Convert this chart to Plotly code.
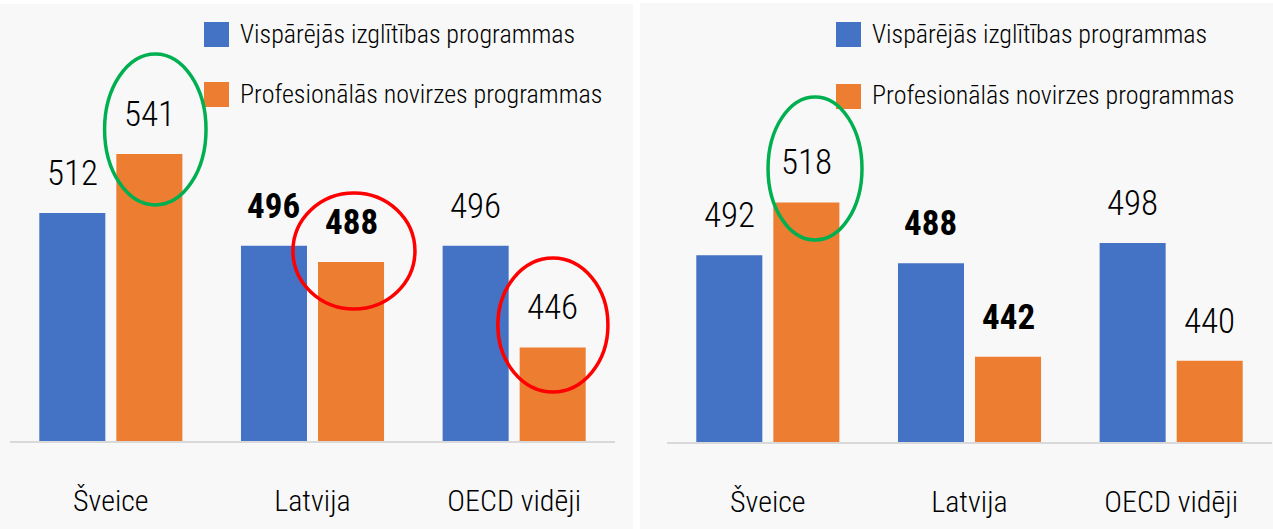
import plotly.graph_objects as go
from plotly.subplots import make_subplots

categories = ["Šveice", "Latvija", "OECD vidēji"]
series_names = ["Vispārējās izglītības programmas", "Profesionālās novirzes programmas"]
left_general = [512, 496, 496]
left_vocational = [541, 488, 446]
right_general = [492, 488, 498]
right_vocational = [518, 442, 440]
bold_category = "Latvija"

BLUE = "#4472c4"
ORANGE = "#ed7d31"
BG = "#f8f8f8"
FONT = "Roboto Condensed, Roboto, sans-serif"
W, H = 1273, 529

fig = make_subplots(rows=1, cols=2)

panels = [(left_general, left_vocational, 1), (right_general, right_vocational, 2)]
for gen, voc, col in panels:
    fig.add_trace(go.Bar(x=categories, y=gen, name=series_names[0], marker_color=BLUE,
                         marker_line_width=0, showlegend=False), row=1, col=col)
    fig.add_trace(go.Bar(x=categories, y=voc, name=series_names[1], marker_color=ORANGE,
                         marker_line_width=0, showlegend=False), row=1, col=col)

bargap = 0.236
fig.update_layout(barmode="group", bargap=bargap, bargroupgap=0.143)

def px_x(p):
    return p / W

def px_y(p):
    return (H - p) / H

# axes domains / ranges
fig.update_xaxes(domain=[px_x(10), px_x(615)], row=1, col=1)
fig.update_xaxes(domain=[px_x(667), px_x(1272)], row=1, col=2)
fig.update_yaxes(domain=[px_y(441), 1], range=[400, 400 + 441 / 2.035], row=1, col=1)
fig.update_yaxes(domain=[px_y(442), 1], range=[400, 400 + 442 / 2.03], row=1, col=2)
fig.update_xaxes(showline=True, linecolor="#d9d9d9", linewidth=2, ticks="",
                 tickfont=dict(family=FONT, size=30, color="#000000", weight=300),
                 ticklabelstandoff=32, showgrid=False, zeroline=False, fixedrange=True)
fig.update_yaxes(visible=False, showgrid=False, zeroline=False, fixedrange=True)

# value labels
slot = (1 - bargap) / 2
offsets = [-slot / 2, slot / 2]
annotations = []
for gen, voc, col in panels:
    xr = "x" if col == 1 else "x2"
    yr = "y" if col == 1 else "y2"
    for s, vals in enumerate([gen, voc]):
        for i, v in enumerate(vals):
            bold = categories[i] == bold_category
            annotations.append(dict(
                x=i + offsets[s], y=v, xref=xr, yref=yr, text=str(v), showarrow=False,
                yanchor="bottom", xanchor="center", yshift=17,
                font=dict(family=FONT, size=35, color="#000000",
                          weight=700 if bold else 300)))

# manual legends
shapes = []
legend_pos = [(204, 240, [34.5, 94.5]), (836, 872, [34.5, 96.5])]
for sq_x, tx_x, ys in legend_pos:
    for name, color, yc in zip(series_names, [BLUE, ORANGE], ys):
        shapes.append(dict(type="rect", xref="paper", yref="paper",
                           x0=px_x(sq_x), x1=px_x(sq_x + 25),
                           y0=px_y(yc + 12.5), y1=px_y(yc - 12.5),
                           fillcolor=color, line_width=0, layer="above"))
        annotations.append(dict(x=px_x(tx_x - 2), y=px_y(yc - 1), xref="paper", yref="paper",
                                text=name, showarrow=False, xanchor="left", yanchor="middle",
                                font=dict(family=FONT, size=26, color="#000000", weight=300)))

# panel backgrounds
shapes.insert(0, dict(type="rect", xref="paper", yref="paper", x0=0, x1=px_x(633),
                      y0=0, y1=px_y(4), fillcolor=BG, line_width=0, layer="below"))
shapes.insert(1, dict(type="rect", xref="paper", yref="paper", x0=px_x(640), x1=1,
                      y0=0, y1=px_y(3), fillcolor=BG, line_width=0, layer="below"))

# highlight ellipses (data coordinates)
ellipses = [
    ("x", "y", -0.031, 0.472, 516.0, 590.2, "#00b050"),
    ("x", "y", 0.903, 1.508, 464.9, 521.9, "#ff0000"),
    ("x", "y", 1.919, 2.465, 424.1, 489.9, "#ff0000"),
    ("x2", "y2", 0.001, 0.467, 499.5, 570.0, "#00b050"),
]
for xr, yr, x0, x1, y0, y1, c in ellipses:
    shapes.append(dict(type="circle", xref=xr, yref=yr, x0=x0, x1=x1, y0=y0, y1=y1,
                       line=dict(color=c, width=3.5), fillcolor="rgba(0,0,0,0)", layer="above"))

fig.update_layout(width=W, height=H, margin=dict(l=0, r=0, t=0, b=0),
                  paper_bgcolor="#ffffff", plot_bgcolor="rgba(0,0,0,0)",
                  annotations=annotations, shapes=shapes,
                  font=dict(family=FONT, color="#000000"))

fig.write_html("out.html", config={"displayModeBar": False},
               post_script="document.body.style.margin='0';document.body.style.padding='0';")
